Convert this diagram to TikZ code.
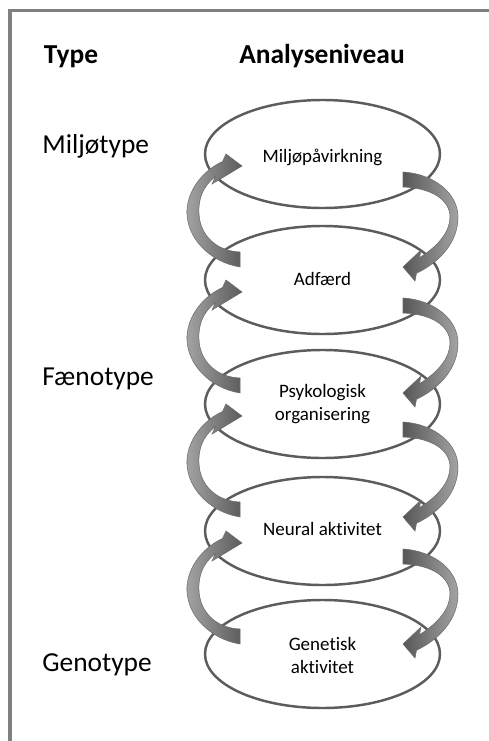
\documentclass[tikz,border=0pt]{standalone}
\usepackage{fontspec}
\setmainfont{Carlito}[Ligatures=NoCommon]
\usetikzlibrary{shapes.geometric}

% one unit = 0.2 mm, y axis pointing down
\tikzset{
  x=0.2mm, y=-0.2mm,
  frameline/.style={draw=black!50, line width=2pt},
  level/.style={ellipse, draw=black!64, line width=1.4pt, fill=white,
    minimum width=47mm, minimum height=21.6mm, inner sep=0pt, outer sep=0pt},
  head/.style={font=\fontsize{15.6}{18}\selectfont\bfseries, anchor=base, inner sep=0pt},
  kind/.style={font=\fontsize{15.6}{18}\selectfont, anchor=base west, inner sep=0pt},
  lvltext/.style={font=\fontsize{10.8}{12.6}\selectfont, anchor=base, align=center, inner sep=0pt},
  ribbon/.style={draw=black!58, line width=0.3pt},
  pics/upribbon/.style={code={
    \path[ribbon, left color=black!36, right color=black!64]
      (-100,7.5) .. controls (-122.5,18) and (-136.5,40) .. (-135.5,60)
      .. controls (-134.5,85) and (-112.5,108) .. (-82.5,113)
      -- (-82.5,98)
      .. controls (-107.5,97) and (-122.5,80) .. (-123.5,60)
      .. controls (-124.5,45) and (-119.5,32) .. (-107,22.5)
      -- (-110.5,30) -- (-80.5,12) -- (-96.5,0) -- cycle;
  }},
  pics/downribbon/.style={code={
    \path[ribbon, left color=black!66, right color=black!36]
      (80.5,18) .. controls (112.5,20) and (135.5,40) .. (135.5,63)
      .. controls (135.5,88) and (117.5,108) .. (94,119.25)
      -- (92.5,127) -- (80.5,113) -- (98.5,96) -- (97,103.75)
      .. controls (115.5,92) and (127.5,78) .. (127.5,63)
      .. controls (127.5,46) and (109.5,34) .. (80.5,33) -- cycle;
  }},
}

\begin{document}
\begin{tikzpicture}
  \useasboundingbox (0,0) rectangle (488,741);
  \fill[white] (0,0) rectangle (488,741);

  % frame, open towards the right and the bottom
  \coordinate (fb) at (10,760);
  \coordinate (fc) at (10,10.5);
  \coordinate (fr) at (510,10.5);
  \draw[frameline] (fb) -- (fc) -- (fr);

  % column headings
  \node[head] (htype) at (71,63) {Type};
  \node[head] (hlevel) at (322,63) {Analyseniveau};

  % type labels
  \node[kind] (tmil) at (42,153) {Miljøtype};
  \node[kind] (tfen) at (42,385) {Fænotype};
  \node[kind] (tgen) at (42,671) {Genotype};

  % levels of analysis
  \node[level] (e1) at (322.5,154) {};
  \node[level] (e2) at (322.5,280) {};
  \node[level] (e3) at (322.5,404) {};
  \node[level] (e4) at (322.5,531) {};
  \node[level] (e5) at (322.5,654) {};

  % base anchor of a two-line node sits on its last line
  \node[lvltext] (l1) at (322.5,162) {Miljøpåvirkning};
  \node[lvltext] (l2) at (322.5,285) {Adfærd};
  \node[lvltext] (l3) at (322.5,420) {Psykologisk\\organisering};
  \node[lvltext] (l4) at (322.5,535) {Neural aktivitet};
  \node[lvltext] (l5) at (322.5,673) {Genetisk\\aktivitet};

  % upward arrows on the left, downward arrows on the right
  \foreach \a in {e1,e2,e3,e4}{
    \pic at (\a.center) {upribbon};
    \pic at (\a.center) {downribbon};
  }
\end{tikzpicture}
\end{document}
